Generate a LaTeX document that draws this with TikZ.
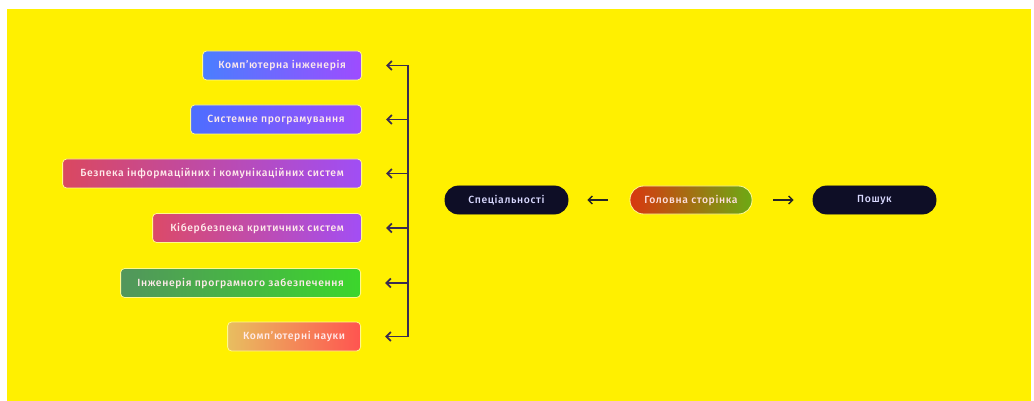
\documentclass[tikz,border=0pt]{standalone}
\usepackage{fontspec}
\setmainfont{Fira Sans}[UprightFont=* Medium, LetterSpace=6]
\usetikzlibrary{arrows.meta}
\definecolor{bgyellow}{RGB}{255,240,0}
\definecolor{navy}{RGB}{14,14,38}
\definecolor{arrowc}{RGB}{58,44,80}
\tikzset{
  x=1pt,y=-1pt,
  cat/.style={rounded corners=4pt, minimum height=29pt, inner sep=0pt, anchor=east,
    text=white!92!red, font=\fontsize{10.4}{11}\selectfont, draw=yellow!45!white, line width=0.8pt},
  pill/.style={rounded corners=13.5pt, minimum height=28pt, inner sep=0pt,
    font=\fontsize{10.4}{11}\selectfont, line width=0.8pt},
  darkpill/.style={pill, fill=navy, draw=navy, text=white!85!blue, minimum width=123pt},
  busline/.style={draw=arrowc, line width=1.8pt},
  catarrow/.style={busline, -{Straight Barb[length=4.5pt,width=9pt,line width=1.8pt]}, shorten >=24pt},
  navarrow/.style={draw=black!85, line width=1.4pt, -{Straight Barb[length=4pt,width=8pt]}},
}
\begin{document}
\begin{tikzpicture}
\useasboundingbox (0,0) rectangle (1034,401);
\fill[white] (0,0) rectangle (1034,401);
\fill[bgyellow] (7,9) rectangle (1031,401);

\node[cat, minimum width=159pt, left color={rgb,255:red,74;green,126;blue,255}, right color={rgb,255:red,158;green,76;blue,255}] (c1) at (362,65.5) {Комп'ютерна інженерія};
\node[cat, minimum width=171pt, left color={rgb,255:red,76;green,110;blue,255}, right color={rgb,255:red,158;green,78;blue,250}] (c2) at (362,119.5) {Системне програмування};
\node[cat, minimum width=299pt, left color={rgb,255:red,218;green,72;blue,96}, right color={rgb,255:red,160;green,78;blue,245}] (c3) at (362,173.5) {Безпека інформаційних і комунікаційних систем};
\node[cat, minimum width=209pt, left color={rgb,255:red,220;green,74;blue,104}, right color={rgb,255:red,162;green,78;blue,245}] (c4) at (362,228) {Кібербезпека критичних систем};
\node[cat, minimum width=240pt, left color={rgb,255:red,82;green,150;blue,92}, right color={rgb,255:red,60;green,214;blue,44}] (c5) at (361,283) {Інженерія програмного забезпечення};
\node[cat, minimum width=133pt, left color={rgb,255:red,232;green,190;blue,96}, right color={rgb,255:red,255;green,84;blue,80}] (c6) at (361,336.5) {Комп'ютерні науки};

\coordinate (b1) at (408,65.5);
\coordinate (b2) at (408,119.5);
\coordinate (b3) at (408,173.5);
\coordinate (b4) at (408,228);
\coordinate (b5) at (408,283);
\coordinate (b6) at (408,336.5);
\draw[busline] (b1) -- (b6);
\foreach \i in {1,...,6} {\draw[catarrow] (b\i) -- (c\i.east);}

\node[darkpill] (spec) at (506.5,200) {Спеціальності};
\node[pill, minimum width=122pt, left color={rgb,255:red,216;green,56;blue,16}, right color={rgb,255:red,108;green,170;blue,20}, draw=yellow!40!white, text=white!88!red] (home) at (691,200) {Головна сторінка};
\node[darkpill] (search) at (874.5,200) {Пошук};

\draw[navarrow, shorten <=22pt, shorten >=19pt] (home.west) -- (spec.east);
\draw[navarrow, shorten <=21pt, shorten >=19pt] (home.east) -- (search.west);
\end{tikzpicture}
\end{document}
